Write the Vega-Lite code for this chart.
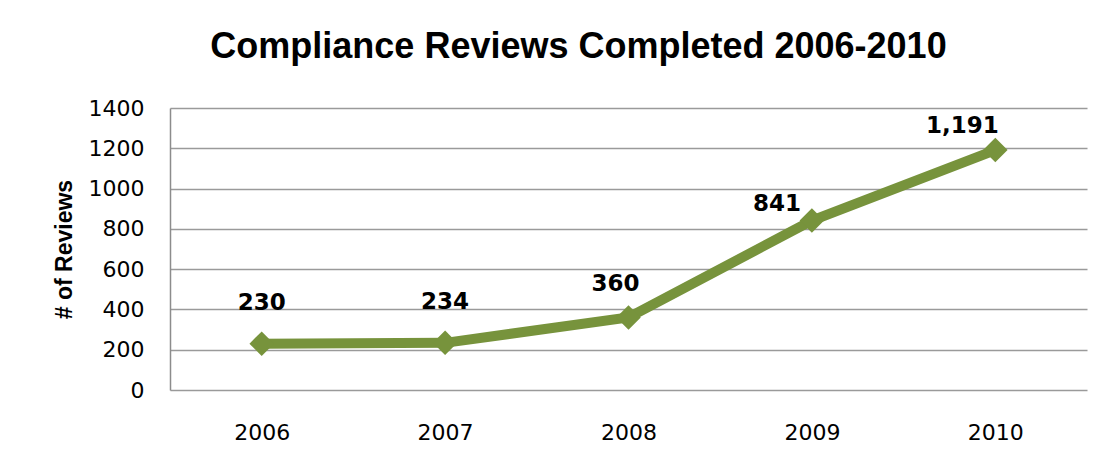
{
  "$schema": "https://vega.github.io/schema/vega-lite/v6.json",
  "width": 917,
  "height": 282,
  "autosize": {"type": "none"},
  "padding": {"left": 170, "top": 108, "right": 23, "bottom": 71},
  "background": "white",
  "data": {"values": [
    {"year": "2006", "reviews": 230},
    {"year": "2007", "reviews": 234},
    {"year": "2008", "reviews": 360},
    {"year": "2009", "reviews": 841},
    {"year": "2010", "reviews": 1191}
  ]},
  "title": {
    "text": "Compliance Reviews Completed 2006-2010",
    "font": "Liberation Sans",
    "fontSize": 36,
    "fontWeight": "bold",
    "color": "#000000",
    "anchor": "middle",
    "dx": -50,
    "offset": 31
  },
  "config": {
    "view": {"stroke": null},
    "axis": {"labelFont": "DejaVu Sans", "labelFontSize": 22, "labelColor": "#000000", "titleColor": "#000000"}
  },
  "encoding": {
    "x": {
      "field": "year", "type": "ordinal",
      "scale": {"type": "point", "padding": 0.5},
      "axis": {"title": null, "labelAngle": 0, "ticks": false, "domain": false, "labelPadding": 32, "grid": false}
    },
    "y": {
      "field": "reviews", "type": "quantitative",
      "scale": {"domain": [0, 1400], "nice": false},
      "axis": {
        "title": "# of Reviews",
        "titleFont": "Liberation Sans",
        "titleFontSize": 23,
        "titleFontWeight": "bold",
        "titlePadding": 12,
        "format": "d",
        "values": [0, 200, 400, 600, 800, 1000, 1200, 1400],
        "ticks": false,
        "labelPadding": 26,
        "domain": true,
        "domainColor": "#8c8c8c",
        "domainWidth": 1.5,
        "grid": true,
        "gridColor": "#9a9a9a",
        "gridWidth": 1.5
      }
    }
  },
  "layer": [
    {"mark": {"type": "line", "color": "#77933C", "strokeWidth": 10}},
    {"mark": {"type": "point", "shape": "diamond", "size": 600, "filled": true, "color": "#77933C", "opacity": 1}},
    {"transform": [{"filter": "datum.year == '2006' || datum.year == '2007'"}],
     "mark": {"type": "text", "font": "DejaVu Sans", "fontWeight": "bold", "fontSize": 23, "baseline": "middle", "dy": -41, "color": "#000000"},
     "encoding": {"text": {"field": "reviews", "type": "quantitative", "format": ",d"}}},
    {"transform": [{"filter": "datum.year == '2008'"}],
     "mark": {"type": "text", "font": "DejaVu Sans", "fontWeight": "bold", "fontSize": 23, "baseline": "middle", "dx": -13, "dy": -33, "color": "#000000"},
     "encoding": {"text": {"field": "reviews", "type": "quantitative", "format": ",d"}}},
    {"transform": [{"filter": "datum.year == '2009'"}],
     "mark": {"type": "text", "font": "DejaVu Sans", "fontWeight": "bold", "fontSize": 23, "baseline": "middle", "dx": -35, "dy": -17, "color": "#000000"},
     "encoding": {"text": {"field": "reviews", "type": "quantitative", "format": ",d"}}},
    {"transform": [{"filter": "datum.year == '2010'"}],
     "mark": {"type": "text", "font": "DejaVu Sans", "fontWeight": "bold", "fontSize": 23, "baseline": "middle", "dx": -33, "dy": -24, "color": "#000000"},
     "encoding": {"text": {"field": "reviews", "type": "quantitative", "format": ",d"}}}
  ]
}
